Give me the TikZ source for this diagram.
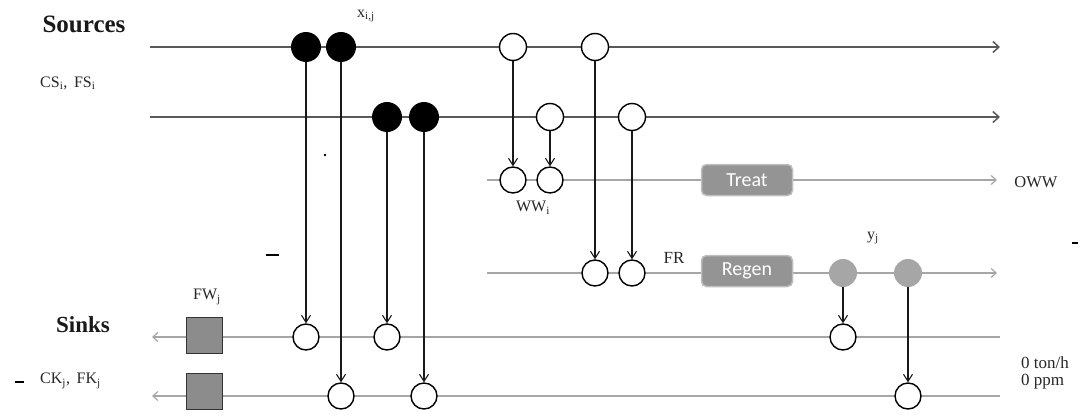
\documentclass[tikz,border=0pt]{standalone}
\usepackage{fontspec}
\setmainfont{Liberation Serif}
\newfontfamily\boxfont{Carlito}
\usetikzlibrary{arrows.meta}
\begin{document}
\begin{tikzpicture}[x=1pt,y=-1pt,
  srcline/.style={draw=black!65, line width=1.5pt, -{Straight Barb[length=6pt,width=11pt]}},
  grayline/.style={draw=black!35, line width=1.2pt, -{Straight Barb[length=5pt,width=9pt]}},
  drop/.style={draw=black!90, line width=1.1pt, -{Straight Barb[length=7pt,width=9pt]}},
  blackdot/.style={circle, fill=black, minimum size=30pt, inner sep=0pt},
  opendot/.style={circle, draw=black, line width=1.4pt, fill=white, minimum size=27pt, inner sep=0pt},
  graydot/.style={circle, fill=black!35, minimum size=28pt, inner sep=0pt},
  unitbox/.style={rounded corners=5pt, fill=black!42, draw=black!25, line width=1.5pt, minimum width=91pt, minimum height=31pt, inner sep=0pt, text=white, font=\boxfont\fontsize{20}{22}\selectfont},
  fwbox/.style={draw=black!80, fill=black!45, minimum size=36pt, inner sep=0pt, line width=0.8pt},
  lbl/.style={font=\fontsize{16}{18}\selectfont, text=black!85, inner sep=0pt},
  headlbl/.style={font=\bfseries\fontsize{25}{27}\selectfont, text=black!90, inner sep=0pt},
  speck/.style={draw=black, line width=2pt}
]
\useasboundingbox (0,0) rectangle (1081,415);

% line end points
\coordinate (s1a) at (150,47);  \coordinate (s1b) at (1000,47);
\coordinate (s2a) at (150,117); \coordinate (s2b) at (1000,117);
\coordinate (ta) at (487,180);  \coordinate (tb) at (997,180);
\coordinate (ra) at (487,273);  \coordinate (rb) at (997,273);
\coordinate (k1a) at (1000,337); \coordinate (k1b) at (152,337);
\coordinate (k2a) at (1000,396); \coordinate (k2b) at (152,396);

% stream lines
\draw[srcline] (s1a) -- (s1b);
\draw[srcline] (s2a) -- (s2b);
\draw[grayline] (ta) -- (tb);
\draw[grayline] (ra) -- (rb);
\draw[grayline] (k1a) -- (k1b);
\draw[grayline] (k2a) -- (k2b);

% source nodes
\node[blackdot] (b1) at (306,47) {};
\node[blackdot] (b2) at (341,47) {};
\node[blackdot] (b3) at (387,117) {};
\node[blackdot] (b4) at (424,117) {};
\node[opendot] (o1) at (513,47) {};
\node[opendot] (o2) at (595,47) {};
\node[opendot] (o3) at (550,117) {};
\node[opendot] (o4) at (632,117) {};

% wastewater / regen nodes
\node[opendot, minimum size=26pt] (w1) at (513,180) {};
\node[opendot, minimum size=26pt] (w2) at (550,180) {};
\node[opendot, minimum size=26pt] (f1) at (595,273) {};
\node[opendot, minimum size=26pt] (f2) at (632,273) {};
\node[unitbox] (treat) at (747,180) {Treat};
\node[unitbox] (regen) at (747,271) {Regen};
\node[graydot] (g1) at (843,273) {};
\node[graydot] (g2) at (908,273) {};

% sink nodes
\node[opendot, minimum size=26pt] (c1) at (306,337) {};
\node[opendot, minimum size=26pt] (c2) at (387,337) {};
\node[opendot, minimum size=26pt] (c3) at (843,337) {};
\node[opendot, minimum size=26pt] (d1) at (341,396) {};
\node[opendot, minimum size=26pt] (d2) at (424,396) {};
\node[opendot, minimum size=26pt] (d3) at (908,396) {};
\node[fwbox] (q1) at (204,335) {};
\node[fwbox] (q2) at (204,391) {};

% drops
\draw[drop] (b1.south) -- (c1.north);
\draw[drop] (b2.south) -- (d1.north);
\draw[drop] (b3.south) -- (c2.north);
\draw[drop] (b4.south) -- (d2.north);
\draw[drop] (o1.south) -- (w1.north);
\draw[drop] (o3.south) -- (w2.north);
\draw[drop] (o2.south) -- (f1.north);
\draw[drop] (o4.south) -- (f2.north);
\draw[drop] (g1.south) -- (c3.north);
\draw[drop] (g2.south) -- (d3.north);

% labels
\node[headlbl] (sources) at (84,24) {Sources};
\node[headlbl, font=\bfseries\fontsize{23}{25}\selectfont] (sinks) at (83,325) {Sinks};
\node[lbl, anchor=west] (cs) at (40,83) {CS\textsubscript{i},\,\ FS\textsubscript{i}};
\node[lbl, anchor=west] (ck) at (40,381) {CK\textsubscript{j},\,\ FK\textsubscript{j}};
\node[lbl] (xij) at (366,16) {x\textsubscript{i,j}};
\node[lbl] (ww) at (533,208) {WW\textsubscript{i}};
\node[lbl, font=\fontsize{17}{19}\selectfont] (fr) at (674,258) {FR};
\node[lbl] (yj) at (873,238) {y\textsubscript{j}};
\node[lbl] (fw) at (207,297) {FW\textsubscript{j}};
\node[lbl, font=\fontsize{16.5}{18}\selectfont] (oww) at (1036,182) {OWW};
\node[lbl, anchor=west, font=\fontsize{17}{19}\selectfont] (ton) at (1021,363) {0 ton/h};
\node[lbl, anchor=west, font=\fontsize{17}{19}\selectfont] (ppm) at (1021,382) {0 ppm};

% scan specks
\coordinate (sp1a) at (266,255); \coordinate (sp1b) at (279,255);
\draw[speck] (sp1a) -- (sp1b);
\coordinate (sp2a) at (15,382); \coordinate (sp2b) at (24,382);
\draw[speck] (sp2a) -- (sp2b);
\coordinate (sp3a) at (1072,243); \coordinate (sp3b) at (1078,243);
\draw[speck, line width=1.5pt] (sp3a) -- (sp3b);
\fill (325,155) circle (1.3pt);
\end{tikzpicture}
\end{document}
